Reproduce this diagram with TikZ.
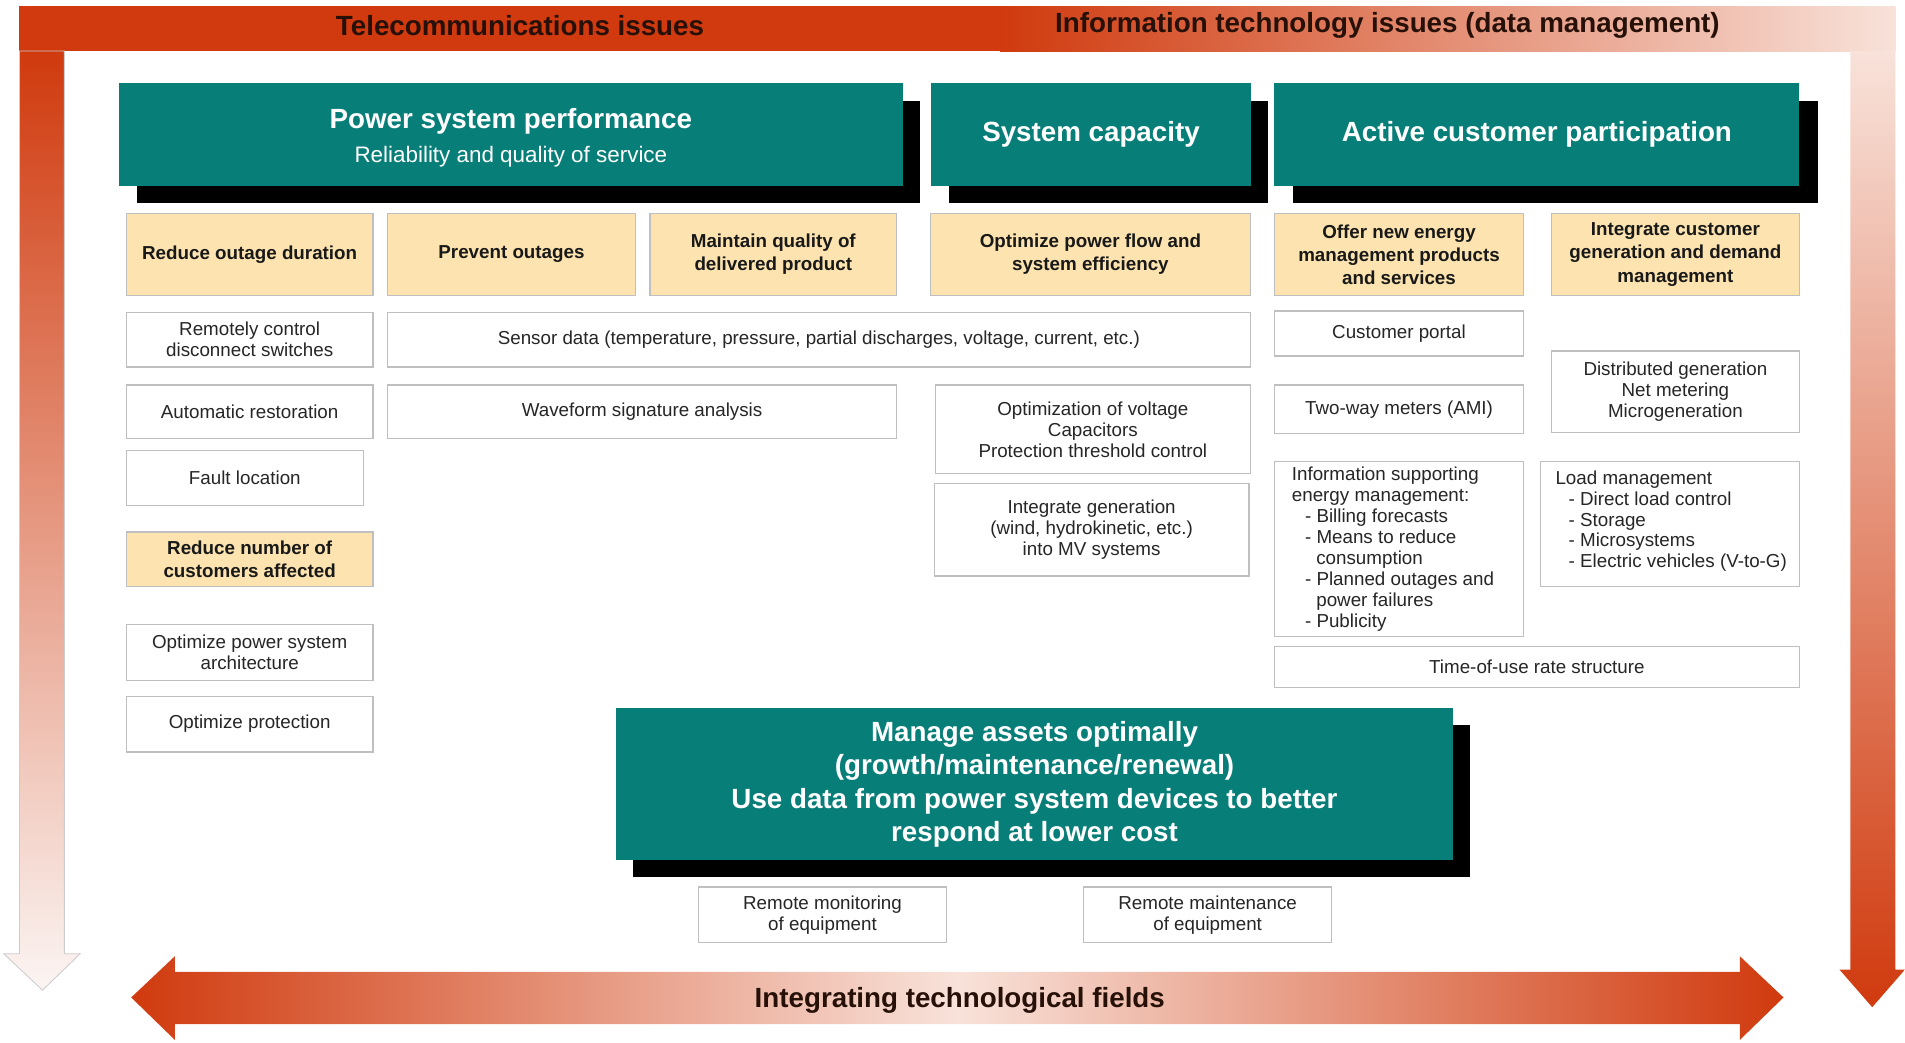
\documentclass[tikz,border=0pt]{standalone}
\usepackage{fontspec}
\setmainfont{Liberation Sans}
\usepackage{tikz}

\definecolor{capteal}{RGB}{8,126,120}
\definecolor{goalyellow}{RGB}{252,227,175}
\definecolor{deeporange}{RGB}{208,58,14}
\definecolor{paleorange}{RGB}{248,226,218}
\definecolor{fadeorange}{RGB}{251,245,243}
\definecolor{titlebrown}{RGB}{38,16,8}

\begin{document}
\begin{tikzpicture}[x=0.02cm, y=-0.02cm,
wbox/.style={draw=black!25, fill=white, line width=0.6pt},
ybox/.style={draw=black!25, fill=goalyellow, line width=0.6pt},
tbox/.style={fill=capteal},
shadowbox/.style={fill=black},
wtxt/.style={align=center, text=black!85, inner sep=0pt, font=\fontsize{8.8}{9.8}\selectfont},
ltxt/.style={align=left, text=black!85, inner sep=0pt, anchor=north west, font=\fontsize{8.8}{9.8}\selectfont},
ytxt/.style={align=center, text=black!90, inner sep=0pt, font=\bfseries\fontsize{8.8}{10.8}\selectfont},
ttxt/.style={align=center, text=white, inner sep=0pt, font=\bfseries\fontsize{13}{15.6}\selectfont},
bandtxt/.style={text=titlebrown, inner sep=0pt, font=\bfseries\fontsize{13}{15.6}\selectfont},
]
\useasboundingbox (0,0) rectangle (1568,858);

% frame arrows
\fill[deeporange] (16,5) rectangle (823,42);
\shade[left color=deeporange, right color=paleorange] (823,5) rectangle (1560,42);
\shade[top color=deeporange, bottom color=fadeorange, draw=black!20, line width=0.4pt]
	(16,42) -- (53,42) -- (53,785) -- (66,785) -- (35,815) -- (3,785) -- (16,785) -- cycle;
\shade[top color=paleorange, bottom color=deeporange]
	(1523,42) -- (1560,42) -- (1560,798) -- (1568,798) -- (1541,829) -- (1514,798) -- (1523,798) -- cycle;
\node[bandtxt] (telecom) at (428,21) {Telecommunications issues};
\node[bandtxt] (infotech) at (1142,21) {Information technology issues (data management)};

% bottom arrow
\shade[left color=deeporange, right color=deeporange, middle color=paleorange]
	(108,821) -- (144,787) -- (144,800) -- (1432,800) -- (1432,787) -- (1468,821)
	-- (1432,856) -- (1432,843) -- (144,843) -- (144,856) -- cycle;
\node[bandtxt] (integr) at (790,823) {Integrating technological fields};

% headline boxes
\fill[shadowbox] (113,83) rectangle (757,167);
\fill[tbox] (98,68) rectangle (743,153) node[ttxt, pos=0.5, yshift=-0.06cm] (perf)
	{Power system performance\\{\mdseries\fontsize{10.5}{12}\selectfont Reliability and quality of service}};

\fill[shadowbox] (781,83) rectangle (1044,167);
\fill[tbox] (766,68) rectangle (1030,153) node[ttxt, pos=0.5] (capacity) {System capacity};

\fill[shadowbox] (1064,83) rectangle (1496,167);
\fill[tbox] (1049,68) rectangle (1481,153) node[ttxt, pos=0.5] (active) {Active customer participation};

\fill[shadowbox] (521,597) rectangle (1210,722);
\fill[tbox] (507,583) rectangle (1196,708) node[ttxt, pos=0.5] (assets)
	{Manage assets optimally\\(growth/maintenance/renewal)\\Use data from power system devices to better\\respond at lower cost};

% goals
\draw[ybox] (104,176) rectangle (307,243) node[ytxt, pos=0.5] (outdur) {Reduce outage duration};
\draw[ybox] (319,176) rectangle (523,243) node[ytxt, pos=0.5] (prevent) {Prevent outages};
\draw[ybox] (535,176) rectangle (738,243) node[ytxt, pos=0.5] (quality) {Maintain quality of\\delivered product};
\draw[ybox] (766,176) rectangle (1029,243) node[ytxt, pos=0.5] (powflow) {Optimize power flow and\\system efficiency};
\draw[ybox] (1049,176) rectangle (1254,243) node[ytxt, pos=0.5] (offer) {Offer new energy\\management products\\and services};
\draw[ybox] (1277,176) rectangle (1481,243) node[ytxt, pos=0.5] (custgen) {Integrate customer\\generation and demand\\management};
\draw[ybox] (104,438) rectangle (307,483) node[ytxt, pos=0.5] (fewer) {Reduce number of\\customers affected};

% means
\draw[wbox] (104,257) rectangle (307,302) node[wtxt, pos=0.5] (switches) {Remotely control\\disconnect switches};
\draw[wbox] (319,257) rectangle (1029,302) node[wtxt, pos=0.5] (sensor) {Sensor data (temperature, pressure, partial discharges, voltage, current, etc.)};
\draw[wbox] (1049,256) rectangle (1254,293) node[wtxt, pos=0.5] (portal) {Customer portal};
\draw[wbox] (104,317) rectangle (307,361) node[wtxt, pos=0.5] (autorest) {Automatic restoration};
\draw[wbox] (319,317) rectangle (738,361) node[wtxt, pos=0.5] (waveform) {Waveform signature analysis};
\draw[wbox] (770,317) rectangle (1029,390) node[wtxt, pos=0.5] (voltopt) {Optimization of voltage\\Capacitors\\Protection threshold control};
\draw[wbox] (1049,317) rectangle (1254,357) node[wtxt, pos=0.5] (meters) {Two-way meters (AMI)};
\draw[wbox] (1277,289) rectangle (1481,356) node[wtxt, pos=0.5] (distgen) {Distributed generation\\Net metering\\Microgeneration};
\draw[wbox] (104,371) rectangle (299,416) node[wtxt, pos=0.5] (fault) {Fault location};
\draw[wbox] (769,398) rectangle (1028,474) node[wtxt, pos=0.5] (intgen) {Integrate generation\\(wind, hydrokinetic, etc.)\\into MV systems};
\draw[wbox] (1049,380) rectangle (1254,524);
\node[ltxt] (infosup) at (1063,384) {Information supporting\\energy management:\\
	\hspace*{0.7em}- Billing forecasts\\\hspace*{0.7em}- Means to reduce\\\hspace*{1.3em}consumption\\
	\hspace*{0.7em}- Planned outages and\\\hspace*{1.3em}power failures\\\hspace*{0.7em}- Publicity};
\draw[wbox] (1268,380) rectangle (1481,483);
\node[ltxt] (loadman) at (1280,387) {Load management\\\hspace*{0.7em}- Direct load control\\
	\hspace*{0.7em}- Storage\\\hspace*{0.7em}- Microsystems\\\hspace*{0.7em}- Electric vehicles (V-to-G)};
\draw[wbox] (1049,532) rectangle (1481,566) node[wtxt, pos=0.5] (touse) {Time-of-use rate structure};
\draw[wbox] (104,514) rectangle (307,560) node[wtxt, pos=0.5] (archi) {Optimize power system\\architecture};
\draw[wbox] (104,573) rectangle (307,619) node[wtxt, pos=0.5] (protect) {Optimize protection};
\draw[wbox] (575,730) rectangle (779,776) node[wtxt, pos=0.5] (monitor) {Remote monitoring\\of equipment};
\draw[wbox] (892,730) rectangle (1096,776) node[wtxt, pos=0.5] (maint) {Remote maintenance\\of equipment};
\end{tikzpicture}
\end{document}
